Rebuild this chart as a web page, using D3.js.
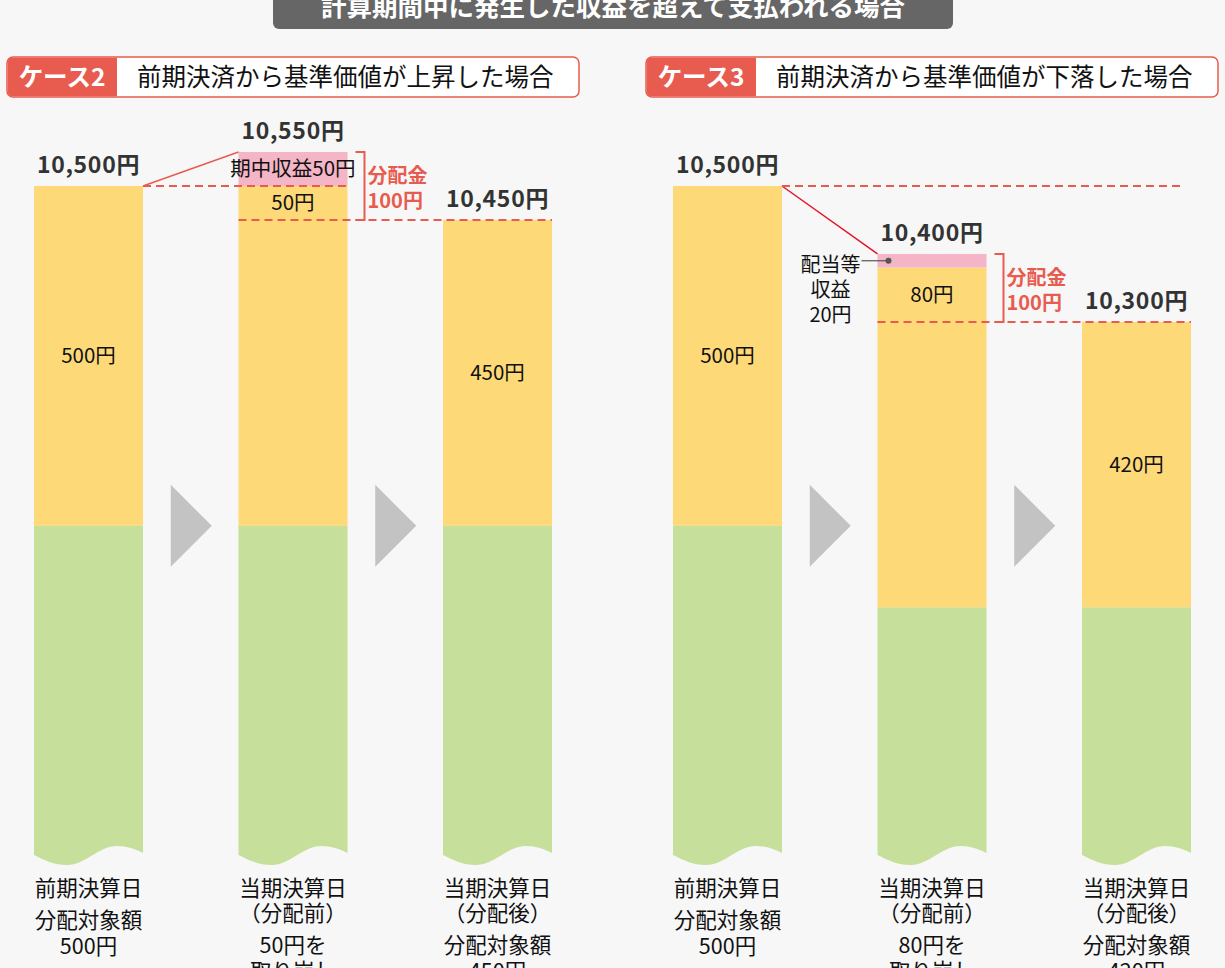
<!DOCTYPE html>
<html><head><meta charset="utf-8">
<script src="https://cdn.jsdelivr.net/npm/d3@7"></script>
<style>
html,body{margin:0;padding:0;background:#f7f7f7;}
svg{display:block;font-family:"Noto Sans CJK JP","Noto Sans",sans-serif;}
</style></head>
<body>
<svg id="chart" width="1225" height="968"></svg>
<script>
// ---- data ----
const mainTitle = "計算期間中に発生した収益を超えて支払われる場合";
const caseLabels = ["ケース2", "ケース3"];
const caseTitles = ["前期決済から基準価値が上昇した場合", "前期決済から基準価値が下落した場合"];
const steps = ["前期", "当期分配前", "当期分配後"];
// stacked segments per case, per step
const greenBase   = [[10000, 10000, 10000], [10000, 9880, 9880]];
const yellowLower = [[500, 450, 450], [500, 420, 420]];
const yellowUpper = [[0, 50, 0], [0, 80, 0]];
const pinkIncome  = [[0, 50, 0], [0, 20, 0]];
const valueLabels = [["10,500円", "10,550円", "10,450円"], ["10,500円", "10,400円", "10,300円"]];
const lowerLabels = [["500円", "", "450円"], ["500円", "", "420円"]];
const upperLabels = [["", "50円", ""], ["", "80円", ""]];
const pinkLabels  = [["", "期中収益50円", ""], ["", "", ""]];
const sideNote    = [[], ["配当等", "収益", "20円"]];
const bracketText = ["分配金", "100円"];
const footTop = [["前期決算日"], ["当期決算日", "（分配前）"], ["当期決算日", "（分配後）"]];
const footBottom = [[["分配対象額", "500円"], ["50円を", "取り崩し"], ["分配対象額", "450円"]],
                    [["分配対象額", "500円"], ["80円を", "取り崩し"], ["分配対象額", "420円"]]];
const breakValue = 9520; // where the (broken) axis is cut

// ---- colors ----
const C = {yellow:"#fdd977", green:"#c6df9a", pink:"#f4b5c6", red:"#e85c4f", dark:"#333333",
           arrow:"#c3c3c3", title:"#666666"};

const svg = d3.select("#chart");
const y = d3.scaleLinear().domain([breakValue, 10500]).range([852, 186]);
const panelOffset = 639;

// main title
svg.append("rect").attr("x", 273).attr("y", -20).attr("width", 680).attr("height", 49).attr("rx", 6)
  .attr("fill", C.title);
svg.append("text").attr("x", 613).attr("y", 16).attr("text-anchor", "middle")
  .attr("font-size", 25.5).attr("font-weight", "bold").attr("fill", "#fff").text(mainTitle);

function wavePath(x0, w, top) {
  const x1 = x0 + w;
  return `M${x0},${top}H${x1}V853` +
    `C${x1-8},849 ${x1-16},846 ${x0+83},846` +
    `C${x0+64},846 ${x0+52},865 ${x0+33},865` +
    `C${x0+20},865 ${x0+10},860 ${x0},855Z`;
}

caseLabels.forEach((lab, ci) => {
  const ox = ci * panelOffset;
  const g = svg.append("g");
  const x = d3.scaleBand().domain(steps).range([34 + ox, 552 + ox]).paddingInner(0.467).paddingOuter(0);
  const bw = x.bandwidth();

  // header
  const hx = 7 + ox;
  g.append("rect").attr("x", hx).attr("y", 57).attr("width", 572).attr("height", 40).attr("rx", 6)
    .attr("fill", "#fff").attr("stroke", C.red).attr("stroke-width", 1.5);
  g.append("path").attr("d", `M${hx+110},57.75H${hx+6}Q${hx+0.75},57.75 ${hx+0.75},63V91Q${hx+0.75},96.25 ${hx+6},96.25H${hx+110}Z`)
    .attr("fill", C.red);
  g.append("text").attr("x", hx + 55).attr("y", 86).attr("text-anchor", "middle")
    .attr("font-size", 24.5).attr("font-weight", "bold").attr("fill", "#fff").text(lab);
  g.append("text").attr("x", hx + 130).attr("y", 86)
    .attr("font-size", 24.5).attr("fill", "#111").text(caseTitles[ci]);

  steps.forEach((s, si) => {
    const x0 = x(s);
    const gv = greenBase[ci][si], yl = yellowLower[ci][si], yu = yellowUpper[ci][si], pk = pinkIncome[ci][si];
    // green with wavy broken bottom
    g.append("path").attr("d", wavePath(x0, bw, y(gv))).attr("fill", C.green);
    // yellow lower
    g.append("rect").attr("x", x0).attr("y", y(gv + yl)).attr("width", bw).attr("height", y(gv) - y(gv + yl)).attr("fill", C.yellow);
    if (yu > 0) g.append("rect").attr("x", x0).attr("y", y(gv + yl + yu)).attr("width", bw).attr("height", y(gv + yl) - y(gv + yl + yu)).attr("fill", C.yellow);
    if (pk > 0) g.append("rect").attr("x", x0).attr("y", y(gv + yl + yu + pk)).attr("width", bw).attr("height", y(gv + yl + yu) - y(gv + yl + yu + pk)).attr("fill", C.pink);
    const cx = x0 + bw / 2;
    const inner = (lo, hi, t) => { if (t) g.append("text").attr("x", cx).attr("y", (y(lo) + y(hi)) / 2 + 7)
      .attr("text-anchor", "middle").attr("font-size", 20.5).attr("fill", "#111").text(t); };
    inner(gv, gv + yl, lowerLabels[ci][si]);
    inner(gv + yl, gv + yl + yu, upperLabels[ci][si]);
    inner(gv + yl + yu, gv + yl + yu + pk, pinkLabels[ci][si]);
    const total = gv + yl + yu + pk;
    g.append("text").attr("x", cx).attr("y", y(total) - 13).attr("text-anchor", "middle")
      .attr("font-size", 23).attr("font-weight", "bold").attr("fill", C.dark).attr("letter-spacing", 0.7)
      .text(valueLabels[ci][si]);
    // footer
    let ly = 896;
    footTop[si].forEach((t, i) => {
      g.append("text").attr("x", cx).attr("y", ly + i * 25).attr("text-anchor", "middle").attr("font-size", 21.5).attr("fill", "#111").text(t);
    });
    ly += (footTop[si].length - 1) * 25 + 32;
    footBottom[ci][si].forEach((t, i) => {
      g.append("text").attr("x", cx).attr("y", ly + i * 26).attr("text-anchor", "middle").attr("font-size", 21.5).attr("fill", "#111").text(t);
    });
  });

  // arrows between bars
  for (let i = 0; i < 2; i++) {
    const ax = x(steps[i]) + bw + (x(steps[i + 1]) - x(steps[i]) - bw) / 2 - 20;
    const ay = y(10000);
    g.append("path").attr("d", `M${ax},${ay - 41}L${ax + 41},${ay}L${ax},${ay + 41}Z`).attr("fill", C.arrow);
  }

  const tot = steps.map((s, si) => greenBase[ci][si] + yellowLower[ci][si] + yellowUpper[ci][si] + pinkIncome[ci][si]);
  const b0 = x(steps[0]), b1 = x(steps[1]), b2 = x(steps[2]);
  // solid connector
  g.append("line").attr("x1", b0 + bw).attr("y1", y(tot[0])).attr("x2", b1).attr("y2", y(tot[1]))
    .attr("stroke", ci === 0 ? C.red : "#e3152c").attr("stroke-width", 1.5);
  // dashed reference lines
  const dash = (x1, x2, v) => g.append("line").attr("x1", x1).attr("x2", x2).attr("y1", y(v)).attr("y2", y(v))
    .attr("stroke", C.red).attr("stroke-width", 2).attr("stroke-dasharray", "8,5");
  dash(b0 + bw, ci === 0 ? b1 + bw : b2 + bw - 6, tot[0]);
  dash(b1, b2 + bw, tot[2]);
  // bracket
  const bx = b1 + bw + 17;
  g.append("path").attr("d", `M${bx - 9},${y(tot[1])}H${bx}V${y(tot[2])}H${bx - 9}`)
    .attr("fill", "none").attr("stroke", C.red).attr("stroke-width", 2);
  bracketText.forEach((t, i) => {
    g.append("text").attr("x", bx + 3).attr("y", y(tot[1]) + 31 + i * 25)
      .attr("font-size", 20).attr("font-weight", "bold").attr("fill", C.red).text(t);
  });
  // side note (case 3)
  if (sideNote[ci].length) {
    const py = (y(tot[1]) + y(tot[1] - pinkIncome[ci][1])) / 2;
    sideNote[ci].forEach((t, i) => {
      g.append("text").attr("x", b1 - 47).attr("y", py + 11 + i * 25).attr("text-anchor", "middle")
        .attr("font-size", 20).attr("fill", "#111").text(t);
    });
    g.append("line").attr("x1", b1 - 16).attr("x2", b1 + 11).attr("y1", py).attr("y2", py).attr("stroke", "#555").attr("stroke-width", 1.2);
    g.append("circle").attr("cx", b1 + 11).attr("cy", py).attr("r", 3).attr("fill", "#555");
  }
});
</script>
</body></html>
